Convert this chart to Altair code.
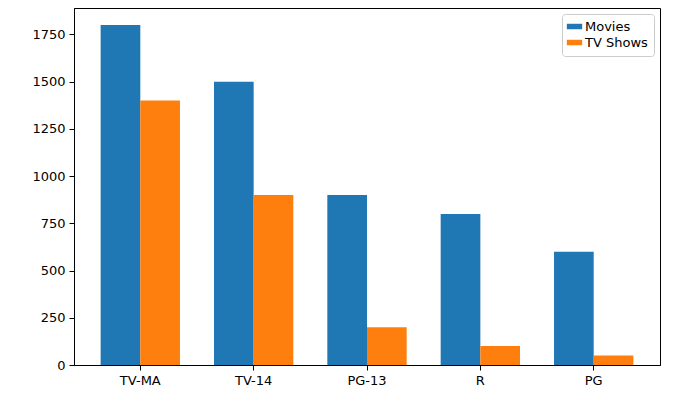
import pandas as pd
import altair as alt

ratings = ["TV-MA", "TV-14", "PG-13", "R", "PG"]
movies = [1800, 1500, 900, 800, 600]
tv_shows = [1400, 900, 200, 100, 50]

rows = []
for r, m, t in zip(ratings, movies, tv_shows):
    rows.append({"rating": r, "type": "Movies", "count": m})
    rows.append({"rating": r, "type": "TV Shows", "count": t})
df = pd.DataFrame(rows)

FONT = "DejaVu Sans"

chart = (
    alt.Chart(df)
    .mark_bar()
    .encode(
        x=alt.X("rating:N", sort=ratings, title=None,
                scale=alt.Scale(paddingInner=0.3, paddingOuter=0.235),
                axis=alt.Axis(labelAngle=0, labelFontSize=13, labelColor="black",
                              tickColor="black", domainColor="black", labelPadding=4,
                              labelFont=FONT)),
        xOffset=alt.XOffset("type:N"),
        y=alt.Y("count:Q", title=None,
                scale=alt.Scale(domain=[0, 1890], nice=False),
                axis=alt.Axis(values=list(range(0, 1751, 250)), format="d", grid=False,
                              labelFontSize=13, labelColor="black", tickColor="black",
                              domainColor="black", labelPadding=4, labelFont=FONT)),
        color=alt.Color("type:N",
                        scale=alt.Scale(domain=["Movies", "TV Shows"], range=["#1f77b4", "#ff7f0e"]),
                        legend=alt.Legend(title=None, orient="top-right", labelFontSize=13,
                                          labelFont=FONT,
                                          symbolType="M-1.4,-0.5L1.4,-0.5L1.4,0.5L-1.4,0.5Z",
                                          symbolSize=120, symbolStrokeWidth=0,
                                          strokeColor="#cccccc", fillColor="white",
                                          padding=6, cornerRadius=3, offset=6,
                                          labelColor="black")),
    )
    .properties(width=586, height=357,
                autosize=alt.AutoSizeParams(type="none"),
                padding={"left": 66, "top": 0, "right": 10, "bottom": 30})
    .configure_view(stroke="black", strokeWidth=1)
)

chart.save("out.html", embed_options={"renderer": "svg", "actions": False})
